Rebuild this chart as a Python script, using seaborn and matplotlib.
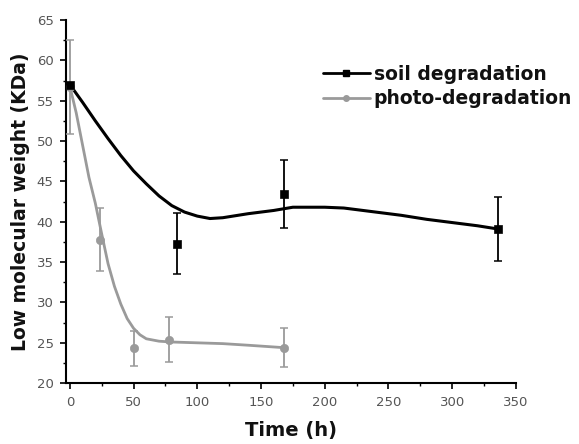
import matplotlib
matplotlib.use("Agg")
import matplotlib.pyplot as plt
import seaborn as sns
import pandas as pd
from matplotlib.lines import Line2D
from matplotlib.ticker import MultipleLocator

sns.set_style("white")
plt.rcParams['font.family'] = ['DejaVu Sans']
plt.rcParams['text.color'] = '#111111'
plt.rcParams['axes.labelcolor'] = '#111111'

# measured points
soil_t = [0, 84, 168, 336]
soil_mw = [57.0, 37.3, 43.4, 39.1]
soil_err = [0.0, 3.8, 4.2, 4.0]

photo_t = [0, 24, 50, 78, 168]
photo_mw = [56.7, 37.8, 24.3, 25.4, 24.4]
photo_err = [5.8, 3.9, 2.2, 2.8, 2.4]

# smoothed curves
soil_curve_t = [0, 10, 20, 30, 40, 50, 60, 70, 80, 90, 100, 110, 120, 140, 160,
                175, 200, 215, 240, 260, 280, 300, 320, 336]
soil_curve_mw = [57.0, 54.8, 52.5, 50.3, 48.2, 46.3, 44.7, 43.2, 42.0, 41.2, 40.7,
                 40.4, 40.5, 41.0, 41.4, 41.8, 41.8, 41.7, 41.2, 40.8, 40.3, 39.9,
                 39.5, 39.1]
photo_curve_t = [0, 5, 10, 15, 20, 25, 30, 35, 40, 45, 50, 55, 60, 70, 80, 100,
                 120, 140, 168]
photo_curve_mw = [56.8, 53.5, 49.5, 45.5, 42.3, 38.5, 34.8, 32.0, 29.8, 28.0, 26.8,
                  26.0, 25.5, 25.2, 25.1, 25.0, 24.9, 24.7, 24.4]

labels = ["soil degradation", "photo-degradation"]
colors = ["#000000", "#9a9a9a"]

fig = plt.figure(figsize=(5.79, 4.44), dpi=100)
ax = fig.add_axes([0.114, 0.137, 0.777, 0.818])

sc = pd.DataFrame({"t": soil_curve_t, "mw": soil_curve_mw})
pc = pd.DataFrame({"t": photo_curve_t, "mw": photo_curve_mw})
sns.lineplot(data=pc, x="t", y="mw", ax=ax, color=colors[1], lw=2.0, sort=True)
sns.lineplot(data=sc, x="t", y="mw", ax=ax, color=colors[0], lw=2.2, sort=True)

ax.errorbar(photo_t, photo_mw, yerr=photo_err, fmt="none", ecolor=colors[1],
            elinewidth=1.3, capsize=3, capthick=1.1, zorder=3)
ax.errorbar(soil_t, soil_mw, yerr=soil_err, fmt="none", ecolor=colors[0],
            elinewidth=1.3, capsize=3, capthick=1.1, zorder=3)
sns.scatterplot(x=photo_t, y=photo_mw, ax=ax, color=colors[1], marker="o", s=36,
                edgecolor=colors[1], zorder=4)
sns.scatterplot(x=soil_t, y=soil_mw, ax=ax, color=colors[0], marker="s", s=36,
                edgecolor=colors[0], zorder=4)

ax.set_xlim(-3, 350)
ax.set_ylim(20, 65)
ax.xaxis.set_major_locator(MultipleLocator(50))
ax.xaxis.set_minor_locator(MultipleLocator(25))
ax.yaxis.set_major_locator(MultipleLocator(5))
ax.yaxis.set_minor_locator(MultipleLocator(2.5))
for s in ["top", "right"]:
    ax.spines[s].set_visible(False)
for s in ["left", "bottom"]:
    ax.spines[s].set_color("black")
    ax.spines[s].set_linewidth(1.5)
ax.tick_params(which="major", direction="out", length=4, width=1.2, color="black",
               labelsize=9.5, labelcolor="#555555", left=True, bottom=True, pad=5)
ax.tick_params(which="minor", direction="out", length=2.5, width=1, color="black",
               left=True, bottom=True)

ax.set_xlabel("Time (h)", fontsize=14, fontweight="bold", labelpad=9)
ax.set_ylabel("Low molecular weight (KDa)", fontsize=13.5, fontweight="bold", labelpad=5)

handles = [Line2D([0], [0], color=colors[0], lw=2, marker="s", markersize=4),
           Line2D([0], [0], color=colors[1], lw=2, marker="o", markersize=4)]
fig.legend(handles, labels, loc="center left", bbox_to_anchor=(323 / 579, 1 - 86.5 / 444),
           bbox_transform=fig.transFigure, frameon=False,
           prop={"size": 13.5, "weight": "bold"}, handlelength=2.5, handletextpad=0.2,
           labelspacing=0.3, borderaxespad=0, borderpad=0)

fig.savefig("out.png", dpi=100)
